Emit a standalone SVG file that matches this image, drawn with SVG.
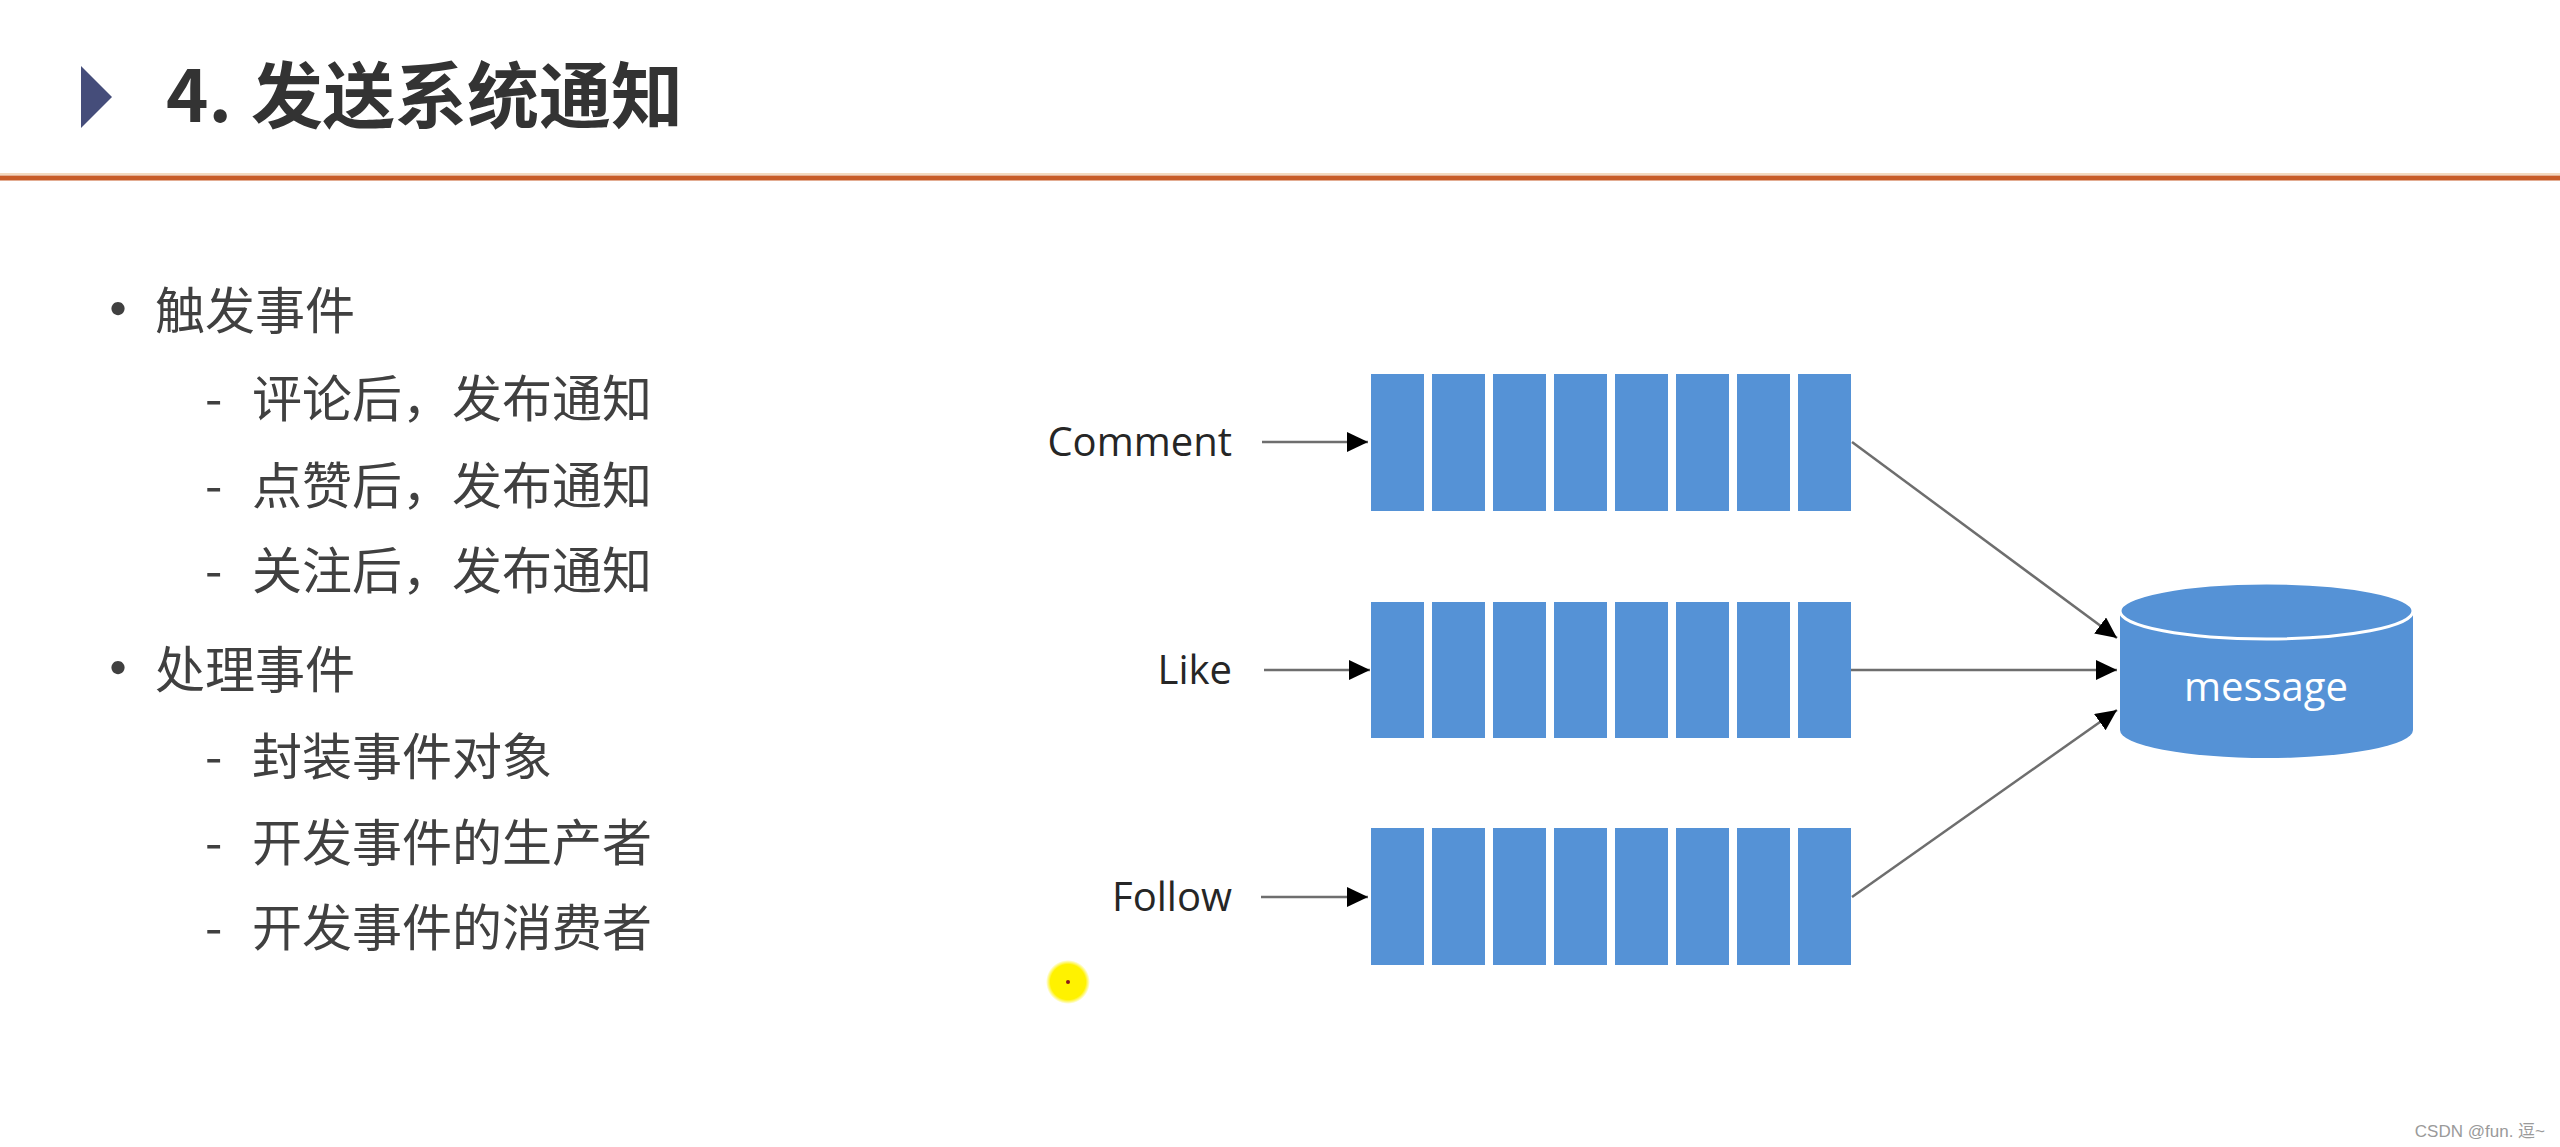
<svg xmlns="http://www.w3.org/2000/svg" width="2560" height="1147" viewBox="0 0 2560 1147">
<defs>
<style>
.title{font-family:"Noto Sans CJK SC","Noto Sans",sans-serif;font-weight:700;font-size:72px;fill:#333333}
.l1{font-family:"Noto Sans CJK SC",sans-serif;font-size:50px;fill:#404040}
.dot{font-size:62px}
.lbl{font-family:"Open Sans","Noto Sans",sans-serif;font-size:40px;fill:#262626}
.cell{fill:#5592d6}
.conn{stroke:#6e6e6e;stroke-width:2.5;fill:none;marker-end:url(#ah)}
.wm{font-family:"Liberation Sans","Noto Sans CJK SC",sans-serif;font-size:17px;fill:#9a9a9a}
</style>
<marker id="ah" markerUnits="userSpaceOnUse" markerWidth="21" markerHeight="20" refX="21" refY="10" orient="auto">
<path d="M0,0 L21,10 L0,20 Z" fill="#000"/>
</marker>
<radialGradient id="yg">
<stop offset="0" stop-color="#fff200"/>
<stop offset="0.8" stop-color="#fff200"/>
<stop offset="1" stop-color="#fff200" stop-opacity="0"/>
</radialGradient>
</defs>
<rect width="2560" height="1147" fill="#ffffff"/>

<g id="header">
<path d="M81,66 L112,97 L81,128 Z" fill="#454d7a"/>
<text class="title" x="166" y="122">4.<tspan x="251">发送系统通知</tspan></text>
<line x1="0" y1="174" x2="2560" y2="174" stroke="#f4d9be" stroke-width="2"/>
<line x1="0" y1="178" x2="2560" y2="178" stroke="#c85c28" stroke-width="5"/>
</g>

<g id="bullets" class="l1">
<text class="dot" x="87" y="333">•</text><text x="155" y="329">触发事件</text>
<text x="205" y="417">-</text><text x="252" y="417">评论后，发布通知</text>
<text x="205" y="504">-</text><text x="252" y="504">点赞后，发布通知</text>
<text x="205" y="589">-</text><text x="252" y="589">关注后，发布通知</text>
<text class="dot" x="87" y="692">•</text><text x="155" y="688">处理事件</text>
<text x="205" y="775">-</text><text x="252" y="775">封装事件对象</text>
<text x="205" y="861">-</text><text x="252" y="861">开发事件的生产者</text>
<text x="205" y="946">-</text><text x="252" y="946">开发事件的消费者</text>
</g>

<g id="label-comment"><text class="lbl" x="1232" y="456" text-anchor="end">Comment</text></g>
<g id="label-like"><text class="lbl" x="1232" y="684" text-anchor="end">Like</text></g>
<g id="label-follow"><text class="lbl" x="1232" y="911" text-anchor="end">Follow</text></g>

<g id="queue-comment" class="cell">
<rect x="1371" y="374" width="53" height="137"/><rect x="1432" y="374" width="53" height="137"/><rect x="1493" y="374" width="53" height="137"/><rect x="1554" y="374" width="53" height="137"/><rect x="1615" y="374" width="53" height="137"/><rect x="1676" y="374" width="53" height="137"/><rect x="1737" y="374" width="53" height="137"/><rect x="1798" y="374" width="53" height="137"/>
</g>
<g id="queue-like" class="cell">
<rect x="1371" y="602" width="53" height="136"/><rect x="1432" y="602" width="53" height="136"/><rect x="1493" y="602" width="53" height="136"/><rect x="1554" y="602" width="53" height="136"/><rect x="1615" y="602" width="53" height="136"/><rect x="1676" y="602" width="53" height="136"/><rect x="1737" y="602" width="53" height="136"/><rect x="1798" y="602" width="53" height="136"/>
</g>
<g id="queue-follow" class="cell">
<rect x="1371" y="828" width="53" height="137"/><rect x="1432" y="828" width="53" height="137"/><rect x="1493" y="828" width="53" height="137"/><rect x="1554" y="828" width="53" height="137"/><rect x="1615" y="828" width="53" height="137"/><rect x="1676" y="828" width="53" height="137"/><rect x="1737" y="828" width="53" height="137"/><rect x="1798" y="828" width="53" height="137"/>
</g>

<g id="db-message">
<path d="M2120,611 L2120,730 A146.5,28 0 0 0 2413,730 L2413,611 Z" fill="#5592d6"/>
<ellipse cx="2266.5" cy="611" rx="146.5" ry="28" fill="#5592d6" stroke="#ffffff" stroke-width="3"/>
<text x="2266" y="701" text-anchor="middle" font-family="Open Sans, Noto Sans, sans-serif" font-size="40" fill="#ffffff">message</text>
</g>

<g id="connectors">
<path class="conn" d="M1262,442 L1368,442"/>
<path class="conn" d="M1264,670 L1370,670"/>
<path class="conn" d="M1261,897 L1368,897"/>
<path class="conn" d="M1852,442 L2117,638"/>
<path class="conn" d="M1851,670 L2117,670"/>
<path class="conn" d="M1852,897 L2117,710"/>
</g>

<g id="cursor">
<circle cx="1068" cy="982" r="22" fill="url(#yg)"/>
<circle cx="1068" cy="982" r="2" fill="#8b1a1a"/>
</g>

<text class="wm" x="2545" y="1137" text-anchor="end">CSDN @fun.  逗~</text>
</svg>
